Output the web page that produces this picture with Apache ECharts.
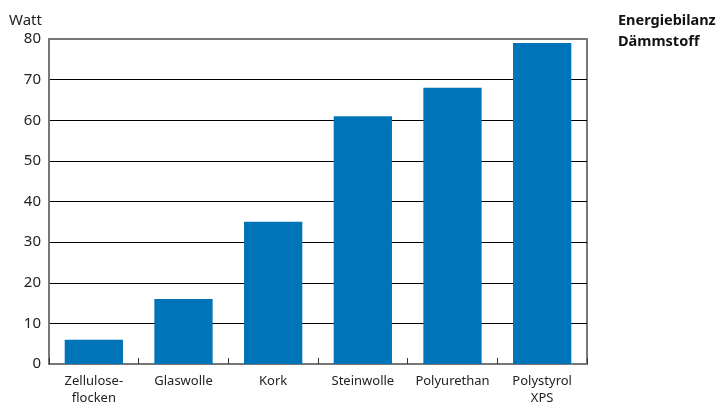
<!DOCTYPE html>
<html><head><meta charset="utf-8">
<script src="https://cdn.jsdelivr.net/npm/echarts@6/dist/echarts.min.js"></script>
<style>html,body{margin:0;padding:0;background:#fff}#c{width:720px;height:403px}</style>
</head><body><div id="c"></div>
<script>
const categories = ['Zellulose-\nflocken', 'Glaswolle', 'Kork', 'Steinwolle', 'Polyurethan', 'Polystyrol\nXPS'];
const values = [6, 16, 35, 61, 68, 79];
const yTicks = [0, 10, 20, 30, 40, 50, 60, 70, 80];
const unitLabel = 'Watt';
const titleText = 'Energiebilanz\nDämmstoff';

const font = '"Noto Sans", "Open Sans", sans-serif';
const chart = echarts.init(document.getElementById('c'));
chart.setOption({
  animation: false,
  title: {
    text: titleText, left: 613, top: 5,
    textStyle: { fontFamily: font, fontSize: 14.5, fontWeight: 'bold', color: '#111', lineHeight: 21 }
  },
  graphic: [{
    type: 'text', left: 9, top: 13,
    style: { text: unitLabel, fontFamily: font, fontSize: 15, fill: '#222' }
  }],
  grid: { left: 49, right: 133, top: 39, bottom: 39, outerBoundsMode: 'none', containLabel: false,
    show: true, borderColor: '#777', borderWidth: 2 },
  xAxis: {
    type: 'category', data: categories,
    axisLine: { lineStyle: { color: '#777', width: 2 } },
    axisTick: { show: true, inside: true, length: 6, lineStyle: { color: '#333' } },
    axisLabel: { interval: 0, fontFamily: font, fontSize: 13, color: '#222', lineHeight: 17, margin: 9 }
  },
  yAxis: {
    type: 'value', min: yTicks[0], max: yTicks[yTicks.length - 1], interval: 10,
    axisLine: { show: true, lineStyle: { color: '#777', width: 2 } },
    axisTick: { show: false },
    axisLabel: { fontFamily: font, fontSize: 15, color: '#222', margin: 8, padding: [8, 0, 0, 0] },
    splitLine: { lineStyle: { color: ['#777', '#000', '#000', '#000', '#000', '#000', '#000', '#000', '#777'], width: 1 } }
  },
  series: [{
    type: 'bar', data: values, barWidth: '65%',
    itemStyle: { color: '#0074B8' }
  }]
});
</script></body></html>
